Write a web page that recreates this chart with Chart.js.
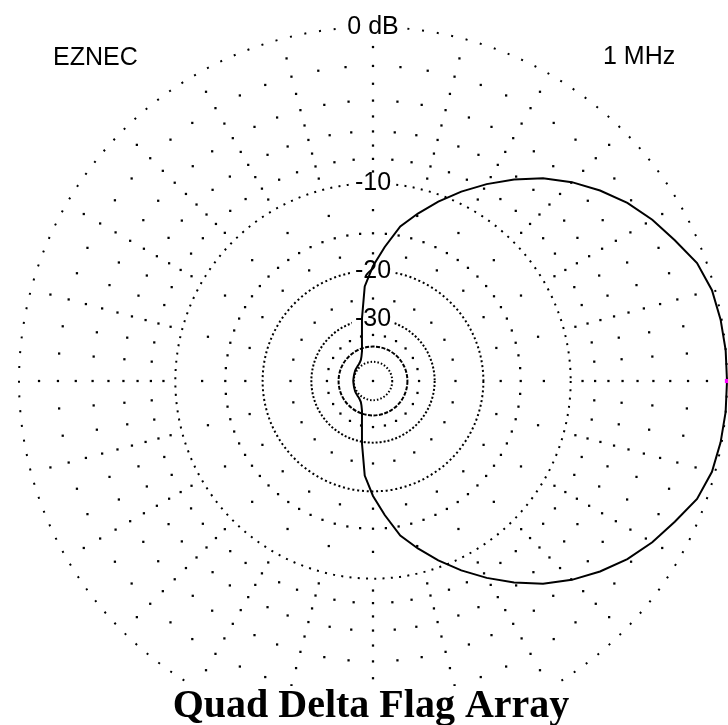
<!DOCTYPE html>
<html>
<head>
<meta charset="utf-8">
<title>Quad Delta Flag Array</title>
<script src="https://cdn.jsdelivr.net/npm/chart.js@4.4.1/dist/chart.umd.min.js"></script>
<style>
  html, body { margin: 0; padding: 0; background: #fff; overflow: hidden; }
  #frame { position: relative; width: 728px; height: 725px; overflow: hidden; }
  /* the outer ring runs past the bottom edge, so the canvas is a bit larger than the frame */
  #wrap { position: absolute; left: 0; top: 0; width: 740px; height: 748px; }
</style>
</head>
<body>
<div id="frame"><div id="wrap"><canvas id="pattern"></canvas></div></div>
<script>
/* ---- pattern data: azimuth 0..180 deg, mirrored for the other half ---- */
const azimuthHalf = [0, 5, 10, 15, 20, 25, 30, 35, 40, 45, 50, 55, 60, 65, 70, 75, 80, 85, 90,
  95, 100, 105, 110, 115, 120, 125, 130, 135, 140, 145, 150, 155, 160, 165, 170, 175, 180];
const gainHalf = [0, 0, -0.05, -0.15, -0.45, -1.05, -1.6, -2.25, -3.05, -3.95, -5.0, -6.25, -7.6, -9.05, -10.6, -12.25, -13.95, -16.6, -19.3,
  -22.6, -29.5, -36.3, -41.2, -44, -46, -47, -47.7, -48.1, -48.4, -48.6, -48.8, -49.1, -49.3, -49.5, -49.6, -49.6, -49.6];

/* grid rings and their labels */
const ringLevels = [-50, -40, -30, -20, -10, 0];
const ringLabels = ['', '', '-30', '-20', '-10', '0 dB'];

/* dotted spokes: dB level of each dot row and the angle between its dots
   (5 deg spokes carry the even rows, 15 deg spokes carry all of them) */
const dotLevels  = [-1, -2, -3, -4, -5, -6, -7, -8, -9, -12.5, -15, -17.5, -25, -35];
const dotSpacing = [15, 5, 15, 5, 15, 5, 15, 5, 15, 15, 5, 15, 15, 15];

const programLabel   = 'EZNEC';
const frequencyLabel = '1 MHz';
const titleText      = 'Quad Delta Flag Array';

/* ---- ARRL log scale: every 2 dB shrinks the radius by 0.89 ---- */
class ArrlScale extends Chart.RadialLinearScale {
  static id = 'arrl';
  getDistanceFromCenterForValue(value) {
    if (value === null || value === undefined || isNaN(value)) return NaN;
    return this.drawingArea * Math.pow(0.89, -value / 2);
  }
  getValueForDistanceFromCenter(distance) {
    return -2 * Math.log(distance / this.drawingArea) / Math.log(0.89);
  }
}
Chart.register(ArrlScale);

/* index 0 sits at the top (azimuth 90) and the scale runs clockwise */
const azimuths = Array.from({ length: 72 }, (_, i) => (90 - 5 * i + 360) % 360);
const gainAt = az => gainHalf[azimuthHalf.indexOf(az <= 180 ? az : 360 - az)];
const gains = azimuths.map(gainAt);

const ringDash = { '0': [2, 12.8], '-10': [2, 6.3], '-20': [2, 2.8], '-30': [2, 2], '-40': [4, 1.5], '-50': [1.5, 2] };

const dotStyle = {
  showLine: false,
  fill: false,
  backgroundColor: 'transparent',
  pointStyle: 'rect',
  pointRadius: 1.6,
  pointBackgroundColor: '#000',
  pointBorderWidth: 0,
};

const dotSets = dotLevels.map((level, k) => ({
  ...dotStyle,
  data: azimuths.map(az => az % dotSpacing[k] === 0 ? level : null),
}));

/* labels drawn outside the polar scale */
const captions = {
  id: 'captions',
  afterDraw(chart) {
    const { ctx, width, height } = chart;
    ctx.save();
    ctx.fillStyle = '#000';
    ctx.font = '25px Arial, "Liberation Sans", sans-serif';
    ctx.textBaseline = 'middle';
    ctx.textAlign = 'left';
    ctx.fillText(programLabel, 53, 58);
    ctx.fillText(frequencyLabel, 603, 57);
    ctx.fillStyle = '#fff';
    ctx.fillRect(0, 686, width, height - 686);
    ctx.fillStyle = '#000';
    ctx.font = 'bold 40px "Times New Roman", "Liberation Serif", serif';
    ctx.textAlign = 'center';
    ctx.textBaseline = 'alphabetic';
    ctx.fillText(titleText, 371, 717);
    ctx.restore();
  },
};

new Chart(document.getElementById('pattern'), {
  type: 'radar',
  data: {
    labels: azimuths,
    datasets: [
      {
        ...dotStyle,
        data: azimuths.map(az => az === 0 ? gainAt(0) : null),
        pointRadius: 3,
        pointBackgroundColor: '#ff00ff',
      },
      {
        data: gains,
        borderColor: '#000',
        borderWidth: 2,
        backgroundColor: 'transparent',
        fill: false,
        pointRadius: 0,
      },
      {
        ...dotStyle,
        data: azimuths.map((az, i) => i === 0 ? -200 : null),
      },
      ...dotSets,
    ],
  },
  options: {
    responsive: true,
    maintainAspectRatio: false,
    animation: false,
    layout: { padding: { left: 6.5, right: 0.5, top: 15, bottom: 0 } },
    plugins: { legend: { display: false }, tooltip: { enabled: false } },
    elements: { line: { tension: 0, fill: false } },
    scales: {
      r: {
        type: 'arrl',
        min: -50,
        max: 0,
        startAngle: 0,
        afterBuildTicks: axis => { axis.ticks = ringLevels.map(v => ({ value: v })); },
        angleLines: { display: false },
        pointLabels: { display: false },
        grid: { circular: true, color: '#000', lineWidth: 2 },
        border: { dash: c => ringDash[String(c.tick.value)] || [] },
        ticks: {
          color: '#000',
          font: { size: 25, family: 'Arial, "Liberation Sans", sans-serif' },
          backdropColor: '#fff',
          backdropPadding: { x: 3, y: 0 },
          showLabelBackdrop: c => !!(c.tick && c.tick.label),
          callback: v => ringLabels[ringLevels.indexOf(v)],
        },
      },
    },
  },
  plugins: [captions],
});
</script>
</body>
</html>
